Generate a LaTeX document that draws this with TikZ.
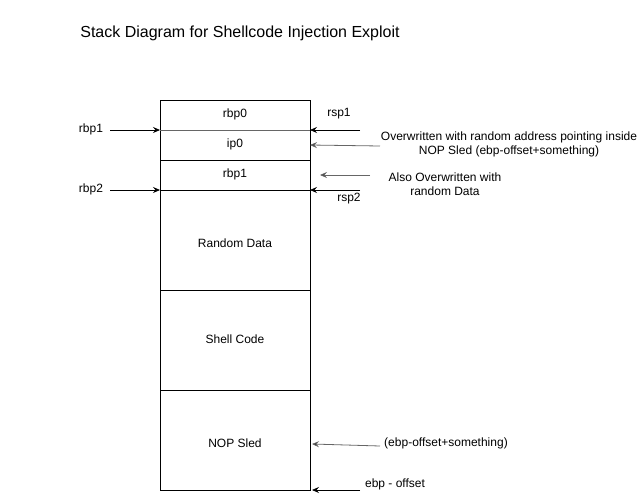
\documentclass[tikz,border=0pt]{standalone}
\usepackage{fontspec}
\setmainfont{Liberation Sans}
\usetikzlibrary{arrows.meta}
\begin{document}
\begin{tikzpicture}[x=1pt,y=-1pt,
  lbl/.style={inner sep=0pt,font=\fontsize{12}{14}\selectfont,align=center},
  cell/.style={draw=black,line width=0.8pt},
  arr/.style={-{Stealth[length=7pt,width=6pt,inset=2.5pt]},line width=0.8pt},
  garr/.style={arr,draw=black!60,-{Stealth[length=7pt,width=6pt,inset=2.5pt,fill=black]}}]
\useasboundingbox (0,0) rectangle (641,501);
% title
\node[inner sep=0pt,font=\fontsize{16}{18}\selectfont] (title) at (240,33) {Stack Diagram for Shellcode Injection Exploit};
% stack cells
\draw[cell] (160,100) rectangle (310,160);
\draw[cell] (160,160) rectangle (310,190);
\draw[cell] (160,190) rectangle (310,290);
\draw[cell] (160,290) rectangle (310,390);
\draw[cell] (160,390) rectangle (310,490);
\draw[draw=black!60,line width=0.8pt] (160,130) -- (310,130);
\node[lbl] (rbp0) at (235,114) {rbp0};
\node[lbl] (ip0) at (235,144) {ip0};
\node[lbl] (rbp1c) at (235,174) {rbp1};
\node[lbl] (rand) at (235,243) {Random Data};
\node[lbl] (shell) at (235,339) {Shell Code};
\node[lbl] (nop) at (235,443) {NOP Sled};
% coordinates
\coordinate (lft1a) at (110,130); \coordinate (lft1b) at (160,130);
\coordinate (lft2a) at (110,190); \coordinate (lft2b) at (160,190);
\coordinate (r1a) at (360,130); \coordinate (r1b) at (310,130);
\coordinate (r2a) at (380,146); \coordinate (r2b) at (310,145);
\coordinate (r3a) at (370,175); \coordinate (r3b) at (320,175);
\coordinate (r4a) at (360,190); \coordinate (r4b) at (310,190);
\coordinate (r5a) at (380,446); \coordinate (r5b) at (312,444);
\coordinate (r6a) at (360,490); \coordinate (r6b) at (312,490);
% labels
\node[lbl] (lrbp1) at (91,129) {rbp1};
\node[lbl] (lrbp2) at (91,189) {rbp2};
\node[lbl] (lrsp1) at (339,114) {rsp1};
\node[lbl] (lrsp2) at (349,199) {rsp2};
\node[lbl] (lover) at (509,144) {Overwritten with random address pointing inside\\NOP Sled (ebp-offset+something)};
\node[lbl] (lalso) at (445,184) {Also Overwritten with\\random Data};
\node[lbl] (lsome) at (446,443) {(ebp-offset+something)};
\node[lbl] (lebp) at (395,484) {ebp - offset};
% arrows
\draw[arr] (lft1a) -- (lft1b);
\draw[arr] (lft2a) -- (lft2b);
\draw[arr] (r1a) -- (r1b);
\draw[garr] (r2a) -- (r2b);
\draw[garr] (r3a) -- (r3b);
\draw[arr] (r4a) -- (r4b);
\draw[garr] (r5a) -- (r5b);
\draw[arr] (r6a) -- (r6b);
\end{tikzpicture}
\end{document}
